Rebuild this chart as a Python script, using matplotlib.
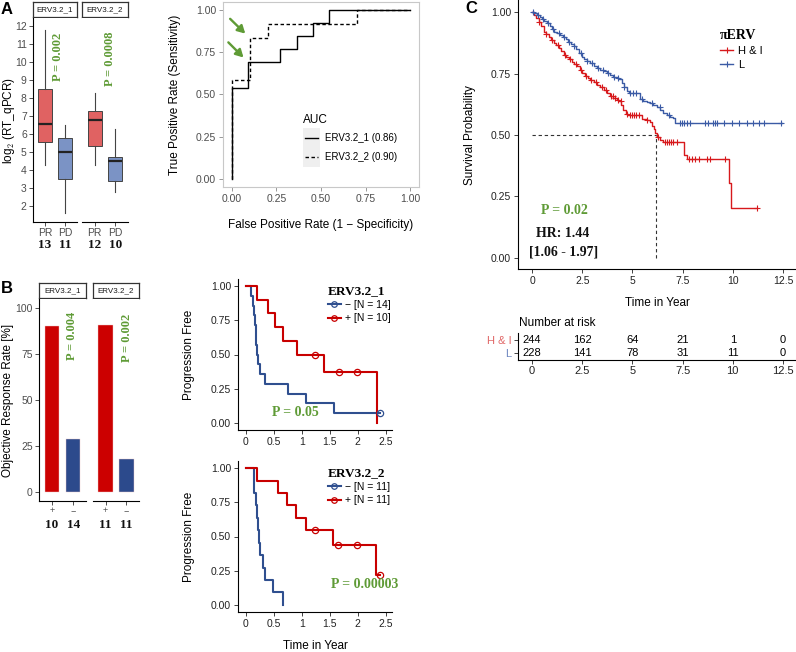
import numpy as np
import matplotlib
matplotlib.use('Agg')
import matplotlib.pyplot as plt
from matplotlib.lines import Line2D
from matplotlib.patches import Rectangle

plt.rcParams['font.family'] = ['Liberation Sans', 'DejaVu Sans']
plt.rcParams['mathtext.fontset'] = 'cm'
plt.rcParams['axes.linewidth'] = 0.8

# ---------------------------------------------------------------- data
facets = ['ERV3.2_1', 'ERV3.2_2']

# Panel A boxplots: [whisker low, Q1, median, Q3, whisker high]
A_groups = ['PR', 'PD']
A_counts_erv1 = [13, 11]
A_counts_erv2 = [12, 10]
A_box_erv1_PR = [4.3, 5.55, 6.55, 8.5, 11.8]
A_box_erv1_PD = [1.6, 3.5, 5.0, 5.75, 6.5]
A_box_erv2_PR = [4.3, 5.35, 6.75, 7.3, 8.3]
A_box_erv2_PD = [2.8, 3.4, 4.5, 4.7, 6.3]
A_pvals = ['0.002', '0.0008']
A_yticks = [2, 3, 4, 5, 6, 7, 8, 9, 10, 11, 12]

# Panel A ROC
roc1_fpr = [0, 0, 0.0909, 0.2727, 0.3636, 0.4545, 0.5455, 1.0]
roc1_tpr = [0, 0.5385, 0.6923, 0.7692, 0.8462, 0.9231, 1.0, 1.0]
roc2_fpr = [0, 0, 0.1, 0.2, 0.7, 1.0]
roc2_tpr = [0, 0.5833, 0.8333, 0.9167, 1.0, 1.0]
roc_labels = ['ERV3.2_1 (0.86)', 'ERV3.2_2 (0.90)']
roc_ticks = [0, 0.25, 0.5, 0.75, 1.0]
roc_ticklabels = ['0.00', '0.25', '0.50', '0.75', '1.00']
arrow_tails = [(-0.01, 0.95), (-0.02, 0.81)]
arrow_heads = [(0.075, 0.862), (0.065, 0.72)]

# Panel B bars
B_groups = ['+', '\u2212']
B_orr_erv1 = [90.0, 28.6]
B_orr_erv2 = [90.9, 18.2]
B_counts_erv1 = [10, 14]
B_counts_erv2 = [11, 11]
B_pvals = ['0.004', '0.002']
B_yticks = [0, 25, 50, 75, 100]

# Panel B Kaplan-Meier (progression free)
km1_neg_t = [0, 0.10, 0.13, 0.15, 0.17, 0.18, 0.19, 0.20, 0.21, 0.26, 0.345, 0.744, 1.08, 1.58, 2.40]
km1_neg_s = [1.0, 0.929, 0.857, 0.786, 0.714, 0.643, 0.571, 0.5, 0.429, 0.357, 0.286, 0.214, 0.143, 0.071, 0.071]
km1_neg_cens = [2.40]
km1_pos_t = [0, 0.20, 0.40, 0.52, 0.66, 0.91, 1.40, 2.34]
km1_pos_s = [1.0, 0.9, 0.8, 0.7, 0.6, 0.5, 0.375, 0.0]
km1_pos_cens = [1.24, 1.66, 1.99]
km1_labels = ['\u2212 [N = 14]', '+ [N = 10]']

km2_neg_t = [0, 0.14, 0.18, 0.20, 0.21, 0.23, 0.26, 0.30, 0.34, 0.48, 0.66]
km2_neg_s = [1.0, 0.818, 0.727, 0.636, 0.545, 0.455, 0.364, 0.273, 0.182, 0.091, 0.0]
km2_neg_cens = []
km2_pos_t = [0, 0.20, 0.57, 0.74, 0.90, 1.08, 1.55, 2.32, 2.40]
km2_pos_s = [1.0, 0.909, 0.818, 0.727, 0.636, 0.545, 0.436, 0.218, 0.218]
km2_pos_cens = [1.24, 1.65, 1.98, 2.40]
km2_labels = ['\u2212 [N = 11]', '+ [N = 11]']
km_pvals = ['0.05', '0.00003']
km_xticks = [0, 0.5, 1, 1.5, 2, 2.5]
km_xticklabels = ['0', '0.5', '1', '1.5', '2', '2.5']
surv_ticks = [0, 0.25, 0.5, 0.75, 1.0]
surv_ticklabels = ['0.00', '0.25', '0.50', '0.75', '1.00']

# Panel C overall survival
HI_t = [0, 0.116, 0.215, 0.331, 0.447, 0.579, 0.695, 0.828, 0.944, 1.076, 1.209, 1.325, 1.440,
        1.573, 1.705, 1.838, 1.970, 2.103, 2.235, 2.368, 2.500, 2.632, 2.765, 2.897, 3.063, 3.228,
        3.394, 3.560, 3.725, 3.891, 4.056, 4.222, 4.354, 4.454, 4.553, 4.685, 4.801, 5.464, 5.712,
        5.877, 5.960, 6.076, 6.142, 6.209, 6.374, 6.507, 7.583, 7.699, 9.801, 9.934, 11.2]
HI_s = [1.0, 0.989, 0.976, 0.962, 0.944, 0.921, 0.910, 0.898, 0.887, 0.876, 0.867, 0.856, 0.844,
        0.826, 0.817, 0.808, 0.798, 0.789, 0.781, 0.765, 0.751, 0.740, 0.731, 0.724, 0.716, 0.705,
        0.694, 0.683, 0.673, 0.659, 0.649, 0.643, 0.637, 0.622, 0.602, 0.586, 0.582, 0.565, 0.561,
        0.554, 0.537, 0.524, 0.510, 0.490, 0.480, 0.470, 0.418, 0.401, 0.303, 0.201, 0.201]
L_t = [0, 0.116, 0.248, 0.381, 0.497, 0.613, 0.745, 0.877, 0.993, 1.109, 1.242, 1.407, 1.540,
       1.672, 1.805, 1.937, 2.070, 2.202, 2.334, 2.467, 2.599, 2.732, 2.897, 3.063, 3.228, 3.394,
       3.560, 3.725, 3.891, 4.056, 4.222, 4.354, 4.470, 4.586, 4.719, 4.818, 5.381, 5.546, 5.712,
       5.877, 6.043, 6.209, 6.374, 6.540, 6.705, 6.871, 7.003, 7.119, 12.45]
L_s = [1.0, 0.996, 0.989, 0.980, 0.974, 0.966, 0.955, 0.944, 0.931, 0.921, 0.914, 0.908, 0.898,
       0.890, 0.879, 0.871, 0.863, 0.852, 0.833, 0.819, 0.808, 0.800, 0.792, 0.781, 0.772, 0.765,
       0.760, 0.751, 0.743, 0.738, 0.732, 0.727, 0.711, 0.694, 0.681, 0.670, 0.645, 0.640, 0.636,
       0.632, 0.622, 0.613, 0.602, 0.591, 0.582, 0.575, 0.568, 0.548, 0.548]
HI_cens = [0.35, 0.7, 1.0, 1.3, 1.65, 1.9, 2.2, 2.45, 2.7, 2.95, 3.2, 3.5, 3.7, 3.95, 4.05, 4.15,
           4.3, 4.45, 4.75, 4.9, 5.0, 5.1, 5.2, 5.35, 5.75, 6.25, 6.6, 6.7, 6.8, 6.9, 7.0, 7.2,
           7.8, 7.95, 8.1, 8.3, 8.7, 8.85, 9.6, 11.2]
L_cens = [0.05, 0.3, 0.55, 0.8, 1.05, 1.35, 1.6, 1.85, 2.1, 2.45, 2.75, 3.0, 3.3, 3.55, 3.8, 4.1,
          4.3, 4.6, 4.9, 5.05, 5.2, 5.5, 6.0, 6.35, 6.8, 7.35, 7.45, 7.55, 7.7, 7.85, 8.6, 8.75,
          9.0, 9.1, 9.2, 9.55, 9.95, 10.3, 10.7, 11.0, 11.3, 11.55, 12.42]
median_HI = 6.18
C_legend_title = '\u03c0ERV'
C_labels = ['H & I', 'L']
C_xticks = [0, 2.5, 5, 7.5, 10, 12.5]
C_xticklabels = ['0', '2.5', '5', '7.5', '10', '12.5']
risk_HI = [244, 162, 64, 21, 1, 0]
risk_L = [228, 141, 78, 31, 11, 0]
C_pval = '0.02'
C_hr = '1.44'
C_ci = ['1.06', '1.97']

# ---------------------------------------------------------------- style
W, H = 796, 652
fig = plt.figure(figsize=(W / 100, H / 100), dpi=100)

GREEN = '#5f9b36'
GREY_TXT = '#4d4d4d'
BOX_RED, BOX_BLUE = '#e06262', '#7b93c5'
BAR_RED, BAR_BLUE = '#cc0000', '#2c4a8c'
KM_RED, KM_BLUE = '#c80000', '#2f4f8f'
C_RED, C_BLUE = '#d7191c', '#3b5ba5'
SERIF = dict(family=['Liberation Serif', 'DejaVu Serif'], weight='bold')


def axpx(x0, y0, x1, y1):
    return fig.add_axes([x0 / W, 1 - y1 / H, (x1 - x0) / W, (y1 - y0) / H])


def ftext(x, y, s, **kw):
    return fig.text(x / W, 1 - y / H, s, **kw)


def strip(x0, y0, x1, y1, label):
    a = axpx(x0, y0, x1, y1)
    a.set_xticks([]); a.set_yticks([])
    for sp in a.spines.values():
        sp.set_color('#333333'); sp.set_linewidth(0.9)
    a.text(0.5, 0.45, label, ha='center', va='center', fontsize=5.8, color='#1a1a1a',
           transform=a.transAxes)


def step_at(t, s, c):
    idx = np.searchsorted(np.asarray(t), np.asarray(c), side='right') - 1
    return np.asarray(s)[idx]


# ---------------------------------------------------------------- panel A boxplots
ftext(1, 2, 'A', fontweight='bold', fontsize=12, va='top', ha='left')
A_fx = [(33, 77), (82, 128)]
A_boxes = [[A_box_erv1_PR, A_box_erv1_PD], [A_box_erv2_PR, A_box_erv2_PD]]
A_counts = [A_counts_erv1, A_counts_erv2]
A_ppos = [(1.65, 10.3), (1.74, 10.2)]
for i in range(2):
    x0, x1 = A_fx[i]
    strip(x0, 2, x1, 17, facets[i])
    ax = axpx(x0, 18, x1, 222)
    stats = [dict(whislo=b[0], q1=b[1], med=b[2], q3=b[3], whishi=b[4], label=g, fliers=[])
             for b, g in zip(A_boxes[i], A_groups)]
    bp = ax.bxp(stats, positions=[1, 2], widths=0.67, patch_artist=True, showcaps=False,
                showfliers=False,
                boxprops=dict(edgecolor='#444444', linewidth=0.7),
                whiskerprops=dict(color='#444444', linewidth=0.8),
                medianprops=dict(color='#222222', linewidth=1.6))
    for patch, c in zip(bp['boxes'], [BOX_RED, BOX_BLUE]):
        patch.set_facecolor(c)
    ax.set_xlim(0.4, 2.6)
    ax.set_ylim(1.11, 12.44)
    ax.spines['top'].set_visible(False)
    ax.spines['right'].set_visible(False)
    ax.tick_params(length=3, width=0.6, color='#333333', labelcolor=GREY_TXT, labelsize=7.5, pad=1.5)
    ax.set_xticks([1, 2])
    ax.set_xticklabels(A_groups)
    if i == 0:
        ax.set_yticks(A_yticks)
    else:
        ax.spines['left'].set_visible(False)
        ax.set_yticks([])
    for p, n in zip([1, 2], A_counts[i]):
        ax.annotate(str(n), xy=(p, 0), xycoords=('data', 'axes fraction'),
                    xytext=(0, -23), textcoords='offset pixels', ha='center', va='center',
                    fontsize=9.5, color='#111111', **SERIF)
    ax.text(A_ppos[i][0], A_ppos[i][1], 'P = ' + A_pvals[i], rotation=90, ha='center',
            va='center', color=GREEN, fontsize=9, **SERIF)
ftext(9, 120, r'log$_{\mathsf{2}}$ (RT_qPCR)', rotation=90, ha='center', va='center', fontsize=8.5)

# ---------------------------------------------------------------- panel A ROC
ax = axpx(223, 2, 419, 187)
ax.plot(roc1_fpr, roc1_tpr, drawstyle='steps-post', color='black', lw=1.0)
ax.plot(roc2_fpr, roc2_tpr, drawstyle='steps-post', color='black', lw=1.0, ls=(0, (2.5, 1.8)))
ax.set_xlim(-0.05, 1.05)
ax.set_ylim(-0.05, 1.05)
ax.set_xticks(roc_ticks); ax.set_xticklabels(roc_ticklabels)
ax.set_yticks(roc_ticks); ax.set_yticklabels(roc_ticklabels)
ax.tick_params(length=3, width=0.6, color='#888888', labelcolor=GREY_TXT, labelsize=7.5, pad=2)
for sp in ax.spines.values():
    sp.set_color('#c8c8c8'); sp.set_linewidth(0.8)
for tail, head in zip(arrow_tails, arrow_heads):
    ax.annotate('', xy=head, xytext=tail, annotation_clip=False,
                arrowprops=dict(arrowstyle='-|>,head_length=0.45,head_width=0.25', color=GREEN,
                                lw=1.7, shrinkA=0, shrinkB=0))
ftext(321, 225, 'False Positive Rate (1 \u2212 Specificity)', ha='center', va='center', fontsize=8.5)
ftext(175, 95, 'True Positive Rate (Sensitivity)', rotation=90, ha='center', va='center', fontsize=8.5)
# AUC legend
ftext(303, 120, 'AUC', ha='left', va='center', fontsize=8.5)
for k, (lab, ls) in enumerate(zip(roc_labels, ['-', (0, (2.5, 1.8))])):
    yc = 138 + 19 * k
    fig.add_artist(Rectangle((303 / W, 1 - (yc + 9.5) / H), 17 / W, 19 / H,
                             transform=fig.transFigure, facecolor='#efefef', edgecolor='none'))
    fig.add_artist(Line2D([305 / W, 318 / W], [1 - yc / H, 1 - yc / H], transform=fig.transFigure,
                          color='black', lw=1.0, ls=ls))
    ftext(325, yc, lab, ha='left', va='center', fontsize=7)

# ---------------------------------------------------------------- panel C
ftext(465, 1, 'C', fontweight='bold', fontsize=12, va='top', ha='left')
axC = axpx(518, 0, 796, 269)
C_xlim = (-0.70, 13.15)
axC.plot(HI_t, HI_s, drawstyle='steps-post', color=C_RED, lw=1.0)
axC.plot(L_t, L_s, drawstyle='steps-post', color=C_BLUE, lw=1.0)
axC.plot(HI_cens, step_at(HI_t, HI_s, HI_cens), ls='none', marker='+', color=C_RED, ms=4.5, mew=0.8)
axC.plot(L_cens, step_at(L_t, L_s, L_cens), ls='none', marker='+', color=C_BLUE, ms=4.5, mew=0.8)
axC.plot([0, median_HI], [0.5, 0.5], ls=(0, (3, 2.5)), color='#333333', lw=0.8)
axC.plot([median_HI, median_HI], [0, 0.5], ls=(0, (3, 2.5)), color='#333333', lw=0.8)
axC.set_xlim(*C_xlim)
axC.set_ylim(-0.046, 1.05)
axC.set_xticks(C_xticks); axC.set_xticklabels(C_xticklabels)
axC.set_yticks(surv_ticks); axC.set_yticklabels(surv_ticklabels)
axC.spines['top'].set_visible(False)
axC.spines['right'].set_visible(False)
axC.tick_params(length=3, width=0.6, color='#222222', labelcolor='#222222', labelsize=7.5, pad=2)
axC.text(1.59, 0.192, 'P = ' + C_pval, color=GREEN, ha='center', va='center', fontsize=10, **SERIF)
axC.text(1.54, 0.099, 'HR: ' + C_hr, color='#111111', ha='center', va='center', fontsize=10, **SERIF)
axC.text(1.57, 0.024, '[' + C_ci[0] + ' - ' + C_ci[1] + ']', color='#111111', ha='center',
         va='center', fontsize=10, **SERIF)
leg = axC.legend(handles=[Line2D([], [], color=C_RED, marker='+', lw=1.0, ms=5, mew=0.8),
                          Line2D([], [], color=C_BLUE, marker='+', lw=1.0, ms=5, mew=0.8)],
                 labels=C_labels, title=C_legend_title,
                 title_fontproperties={'family': ['Liberation Serif', 'DejaVu Serif'],
                                       'weight': 'bold', 'size': 10},
                 loc='upper left',
                 bbox_to_anchor=((720 - 518) / 278, 1 - 29 / 269), frameon=False, fontsize=8,
                 handlelength=1.2, handletextpad=0.4, borderpad=0,
                 borderaxespad=0, labelspacing=0.35, alignment='left')
ftext(657, 303, 'Time in Year', ha='center', va='center', fontsize=8.5)
ftext(470, 135, 'Survival Probability', rotation=90, ha='center', va='center', fontsize=8.5)

# risk table
ftext(519, 323, 'Number at risk', ha='left', va='center', fontsize=8.5)
axT = axpx(518, 333, 796, 360)
axT.set_xlim(*C_xlim)
axT.set_ylim(-0.54, 1.54)
for t, n in zip(C_xticks, risk_HI):
    axT.text(t, 1, str(n), ha='center', va='center', fontsize=8)
for t, n in zip(C_xticks, risk_L):
    axT.text(t, 0, str(n), ha='center', va='center', fontsize=8)
axT.set_yticks([1, 0]); axT.set_yticklabels(C_labels)
for lbl, c in zip(axT.get_yticklabels(), ['#e06666', '#6d86c0']):
    lbl.set_color(c)
axT.set_xticks(C_xticks); axT.set_xticklabels(C_xticklabels)
axT.spines['top'].set_visible(False)
axT.spines['right'].set_visible(False)
axT.tick_params(length=3, width=0.6, color='#222222', labelsize=8, pad=1.5)
axT.tick_params(axis='x', labelcolor='#222222')

# ---------------------------------------------------------------- panel B bars
ftext(1, 281, 'B', fontweight='bold', fontsize=12, va='top', ha='left')
B_fx = [(39, 86), (93, 139)]
B_orr = [B_orr_erv1, B_orr_erv2]
B_counts = [B_counts_erv1, B_counts_erv2]
B_ppos = [(1.93, 85), (2.04, 84)]
for i in range(2):
    x0, x1 = B_fx[i]
    strip(x0, 283, x1, 298, facets[i])
    ax = axpx(x0, 299, x1, 501)
    ax.bar([1, 2], B_orr[i], width=0.68, color=[BAR_RED, BAR_BLUE], edgecolor='#f0c8c8', linewidth=0.3)
    ax.set_xlim(0.4, 2.6)
    ax.set_ylim(-4.9, 104.9)
    ax.spines['top'].set_visible(False)
    ax.spines['right'].set_visible(False)
    ax.tick_params(length=3, width=0.6, color='#333333', labelcolor=GREY_TXT, labelsize=7.5, pad=1.5)
    ax.tick_params(axis='x', labelsize=6.5, pad=0.5)
    ax.set_xticks([1, 2]); ax.set_xticklabels(B_groups)
    if i == 0:
        ax.set_yticks(B_yticks)
    else:
        ax.spines['left'].set_visible(False)
        ax.set_yticks([])
    for p, n in zip([1, 2], B_counts[i]):
        ax.annotate(str(n), xy=(p, 0), xycoords=('data', 'axes fraction'),
                    xytext=(0, -24), textcoords='offset pixels', ha='center', va='center',
                    fontsize=9.5, color='#111111', **SERIF)
    ax.text(B_ppos[i][0], B_ppos[i][1], 'P = ' + B_pvals[i], rotation=90, ha='center',
            va='center', color=GREEN, fontsize=9, **SERIF)
ftext(8, 400, 'Objective Response Rate [%]', rotation=90, ha='center', va='center', fontsize=8.5)

# ---------------------------------------------------------------- panel B KM
km_sets = [
    (km1_neg_t, km1_neg_s, km1_neg_cens, km1_pos_t, km1_pos_s, km1_pos_cens, km1_labels),
    (km2_neg_t, km2_neg_s, km2_neg_cens, km2_pos_t, km2_pos_s, km2_pos_cens, km2_labels),
]
km_y = [(279, 430), (461, 612)]
km_ppos = [(0.47, 0.074), (1.52, 0.146)]
for i, (nt, ns, nc, pt, ps, pc, labs) in enumerate(km_sets):
    y0, y1 = km_y[i]
    ax = axpx(238, y0, 392, y1)
    ax.plot(nt, ns, drawstyle='steps-post', color=KM_BLUE, lw=1.5)
    ax.plot(pt, ps, drawstyle='steps-post', color=KM_RED, lw=1.5)
    if len(nc):
        ax.plot(nc, step_at(nt, ns, nc), ls='none', marker='o', mfc='none', mec=KM_BLUE, ms=4.5, mew=0.9)
    ax.plot(pc, step_at(pt, ps, pc), ls='none', marker='o', mfc='none', mec=KM_RED, ms=4.5, mew=0.9)
    ax.set_xlim(-0.14, 2.61)
    ax.set_ylim(-0.052, 1.052)
    ax.set_xticks(km_xticks); ax.set_xticklabels(km_xticklabels)
    ax.set_yticks(surv_ticks); ax.set_yticklabels(surv_ticklabels)
    ax.spines['top'].set_visible(False)
    ax.spines['right'].set_visible(False)
    ax.tick_params(length=3, width=0.6, color='#222222', labelcolor='#222222', labelsize=7.5, pad=2)
    ax.text(km_ppos[i][0], km_ppos[i][1], 'P = ' + km_pvals[i], color=GREEN, ha='left',
            va='center', fontsize=10, **SERIF)
    ax.legend(handles=[Line2D([], [], color=KM_BLUE, marker='o', mfc='none', lw=1.5, ms=4, mew=0.9),
                       Line2D([], [], color=KM_RED, marker='o', mfc='none', lw=1.5, ms=4, mew=0.9)],
              labels=labs, title=facets[i],
              title_fontproperties={'family': ['Liberation Serif', 'DejaVu Serif'],
                                    'weight': 'bold', 'size': 9.5},
              loc='upper left',
              bbox_to_anchor=((328 - 238) / 154, (y1 - (y0 + 6)) / (y1 - y0)), frameon=False,
              fontsize=7.5, handlelength=1.2, handletextpad=0.4, borderpad=0,
              borderaxespad=0, labelspacing=0.3, alignment='left')
    ftext(189, (y0 + y1) / 2, 'Progression Free', rotation=90, ha='center', va='center', fontsize=8.5)
ftext(315, 646, 'Time in Year', ha='center', va='center', fontsize=8.5)

fig.savefig('out.png', dpi=100)
